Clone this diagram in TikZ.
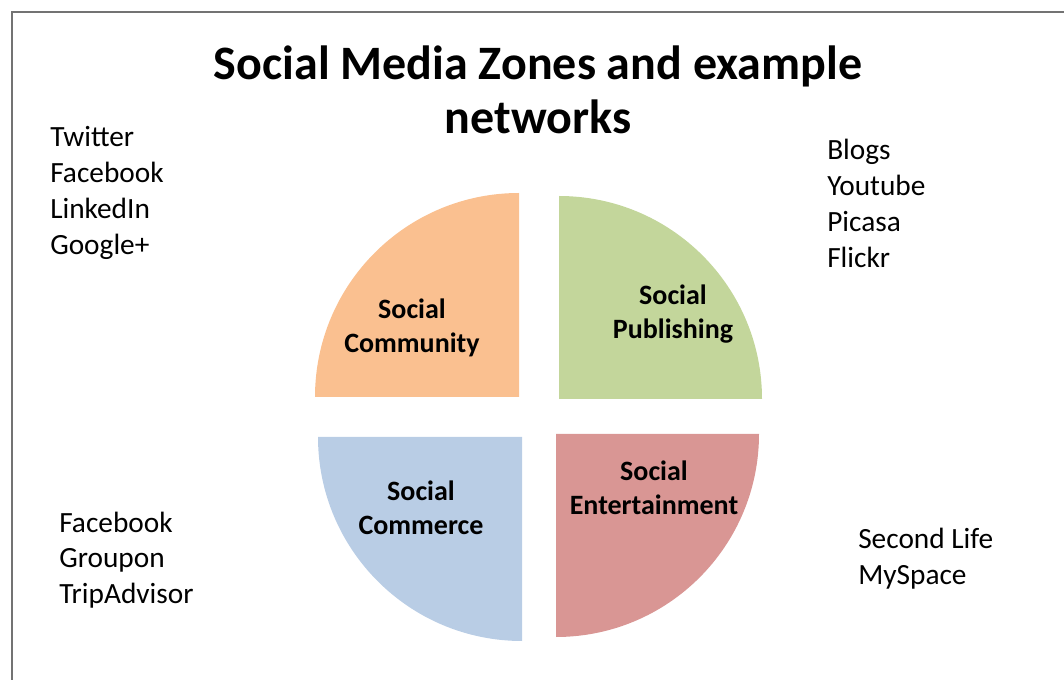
\documentclass[tikz,border=0pt]{standalone}
\usepackage{fontspec}
\setmainfont{Carlito}

\definecolor{commfill}{HTML}{FAC090}
\definecolor{pubfill}{HTML}{C3D69B}
\definecolor{commercefill}{HTML}{B9CDE5}
\definecolor{entfill}{HTML}{D99694}

\tikzset{
  zone/.style = {font=\fontsize{21}{25.5}\selectfont\bfseries, align=center, inner sep=0pt},
  sites/.style = {font=\fontsize{22}{27}\selectfont, align=left, anchor=base west, inner sep=0pt},
}

\begin{document}
\begin{tikzpicture}[x=0.75pt, y=0.75pt]

\useasboundingbox (0,0) rectangle (1064,-680);

% frame, cut off at the right and at the bottom
\draw[black!55, line width=1.5pt] (12,-690) -- (12,-12) -- (1074,-12);

% base of a multi-line node is the last line
\node[font=\fontsize{36}{41}\selectfont\bfseries, align=center, anchor=base] (title) at (538,-134)
  {Social Media Zones and example\\networks};

% the four quarters
\fill[commfill] (519,-397) -- ++(-204,0) arc[start angle=180, end angle=90, radius=204] -- cycle;
\fill[pubfill] (559,-399) -- ++(0,203) arc[start angle=90, end angle=0, radius=203] -- cycle;
\fill[commercefill] (522,-437) -- ++(0,-204) arc[start angle=270, end angle=180, radius=204] -- cycle;
\fill[entfill] (556,-434) -- ++(203,0) arc[start angle=0, end angle=-90, radius=203] -- cycle;

\node[zone] (community) at (412,-328) {Social\\Community};
\node[zone] (publishing) at (673,-314) {Social\\Publishing};
\node[zone] (commerce) at (421,-508) {Social\\Commerce};
\node[zone] (entertainment) at (654,-488) {Social\\Entertainment};

% example networks
\node[sites] (commsites) at (50,-255) {Twitter\\Facebook\\LinkedIn\\Google+};
\node[sites] (pubsites) at (827,-268) {Blogs\\Youtube\\Picasa\\Flickr};
\node[sites] (commercesites) at (59,-604) {Facebook\\Groupon\\TripAdvisor};
\node[sites] (entsites) at (858,-585) {Second Life\\MySpace};

\end{tikzpicture}
\end{document}
